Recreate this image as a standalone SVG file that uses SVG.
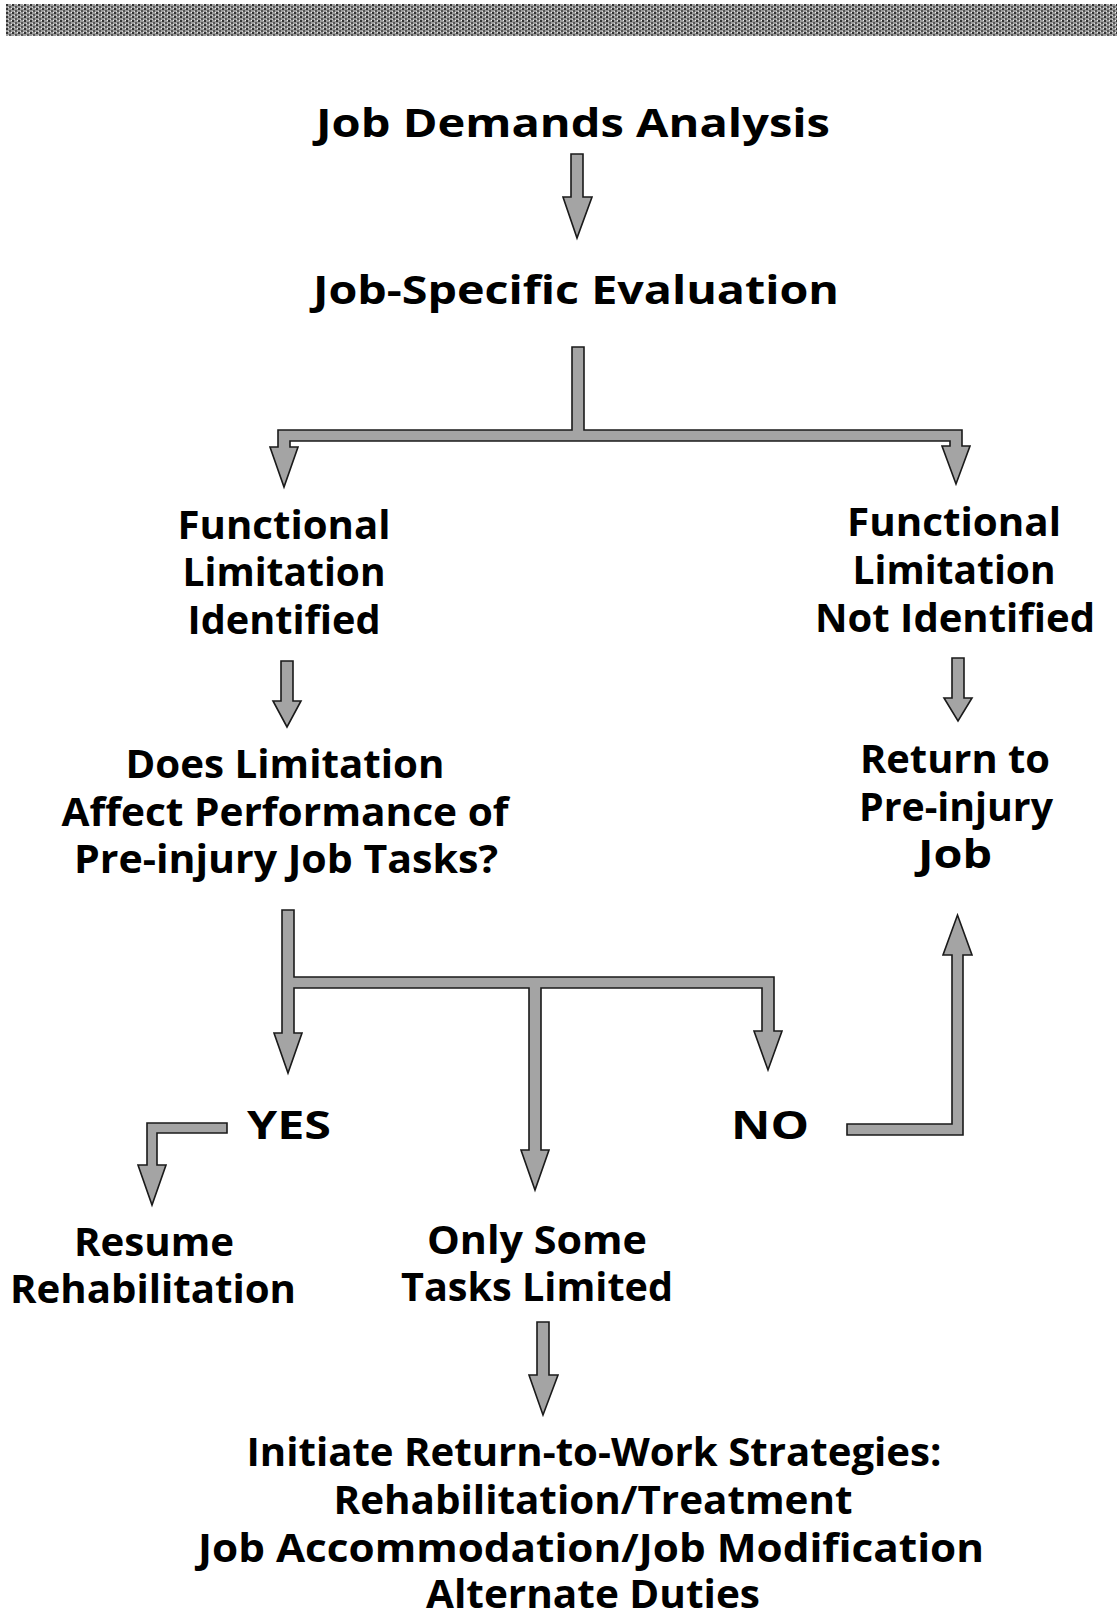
<svg xmlns="http://www.w3.org/2000/svg" width="1117" height="1612" viewBox="0 0 1117 1612">
<defs>
<pattern id="grain" width="6" height="4" patternUnits="userSpaceOnUse">
<rect width="6" height="4" fill="#9a9a9a"/>
<rect x="0" y="0" width="2" height="2" fill="#333"/>
<rect x="3" y="2" width="2" height="2" fill="#555"/>
<rect x="5" y="0" width="1" height="1" fill="#eee"/>
<rect x="2" y="3" width="1" height="1" fill="#ddd"/>
</pattern>
<style>
.t{font-family:"Open Sans","Noto Sans","Liberation Sans",sans-serif;font-weight:700;font-size:40px;fill:#000;text-anchor:middle}
.a{fill:#a4a4a4;stroke:#1a1a1a;stroke-width:1.6;stroke-linejoin:miter}
</style>
</defs>
<rect width="1117" height="1612" fill="#fff"/>
<rect x="6" y="4" width="1111" height="32" fill="url(#grain)"/>

<g id="connectors">
<path class="a" d="M571,154 H583 V197 H592 L577,238 L563,197 H571 Z"/>
<path class="a" d="M572,347 H584 V430 H962 V446 H970 L956,484 L942,446 H950 V441 H290 V447 H298 L284,487 L270,447 H278 V430 H572 Z"/>
<path class="a" d="M281,661 H293 V701 H301 L287,727 L273,701 H281 Z"/>
<path class="a" d="M952,658 H964 V698 H972 L958,721 L944,698 H952 Z"/>
<path class="a" d="M282,910 H294 V977 H774 V1031 H782 L768,1070 L754,1031 H762 V988 H541 V1150 H549 L535,1190 L521,1150 H529 V988 H294 V1033 H302 L288,1073 L274,1033 H282 Z"/>
<path class="a" d="M147,1123 H227 V1133 H157 V1165 H166 L152,1205 L138,1165 H147 Z"/>
<path class="a" d="M847,1124 H952 V955 H943 L957.5,915 L972,955 H963 V1135 H847 Z"/>
<path class="a" d="M537,1322 H549 V1375 H558 L543,1415 L529,1375 H537 Z"/>
</g>

<g id="job-demands-analysis">
<text class="t" x="573" y="137" textLength="514" lengthAdjust="spacingAndGlyphs">Job Demands Analysis</text>
</g>
<g id="job-specific-evaluation">
<text class="t" x="576" y="304" textLength="526" lengthAdjust="spacingAndGlyphs">Job-Specific Evaluation</text>
</g>
<g id="limitation-identified">
<text class="t" x="284" y="539" textLength="213" lengthAdjust="spacingAndGlyphs">Functional</text>
<text class="t" x="284" y="586" textLength="203" lengthAdjust="spacingAndGlyphs">Limitation</text>
<text class="t" x="284" y="634" textLength="193" lengthAdjust="spacingAndGlyphs">Identified</text>
</g>
<g id="limitation-not-identified">
<text class="t" x="954" y="536" textLength="214" lengthAdjust="spacingAndGlyphs">Functional</text>
<text class="t" x="954" y="584" textLength="203" lengthAdjust="spacingAndGlyphs">Limitation</text>
<text class="t" x="955" y="632" textLength="280" lengthAdjust="spacingAndGlyphs">Not Identified</text>
</g>
<g id="does-limitation-affect">
<text class="t" x="285" y="778" textLength="319" lengthAdjust="spacingAndGlyphs">Does Limitation</text>
<text class="t" x="285" y="826" textLength="447" lengthAdjust="spacingAndGlyphs">Affect Performance of</text>
<text class="t" x="286" y="873" textLength="424" lengthAdjust="spacingAndGlyphs">Pre-injury Job Tasks?</text>
</g>
<g id="return-to-job">
<text class="t" x="955" y="773" textLength="190" lengthAdjust="spacingAndGlyphs">Return to</text>
<text class="t" x="956" y="821" textLength="194" lengthAdjust="spacingAndGlyphs">Pre-injury</text>
<text class="t" x="955" y="868" textLength="74" lengthAdjust="spacingAndGlyphs">Job</text>
</g>
<g id="yes">
<text class="t" x="289" y="1139" textLength="84" lengthAdjust="spacingAndGlyphs">YES</text>
</g>
<g id="no">
<text class="t" x="770" y="1139" textLength="78" lengthAdjust="spacingAndGlyphs">NO</text>
</g>
<g id="resume-rehabilitation">
<text class="t" x="154" y="1256" textLength="160" lengthAdjust="spacingAndGlyphs">Resume</text>
<text class="t" x="153" y="1303" textLength="286" lengthAdjust="spacingAndGlyphs">Rehabilitation</text>
</g>
<g id="only-some-tasks">
<text class="t" x="537" y="1254" textLength="220" lengthAdjust="spacingAndGlyphs">Only Some</text>
<text class="t" x="537" y="1301" textLength="272" lengthAdjust="spacingAndGlyphs">Tasks Limited</text>
</g>
<g id="return-to-work-strategies">
<text class="t" x="594" y="1466" textLength="695" lengthAdjust="spacingAndGlyphs">Initiate Return-to-Work Strategies:</text>
<text class="t" x="593" y="1514" textLength="519" lengthAdjust="spacingAndGlyphs">Rehabilitation/Treatment</text>
<text class="t" x="591" y="1562" textLength="786" lengthAdjust="spacingAndGlyphs">Job Accommodation/Job Modification</text>
<text class="t" x="593" y="1608" textLength="334" lengthAdjust="spacingAndGlyphs">Alternate Duties</text>
</g>
</svg>
